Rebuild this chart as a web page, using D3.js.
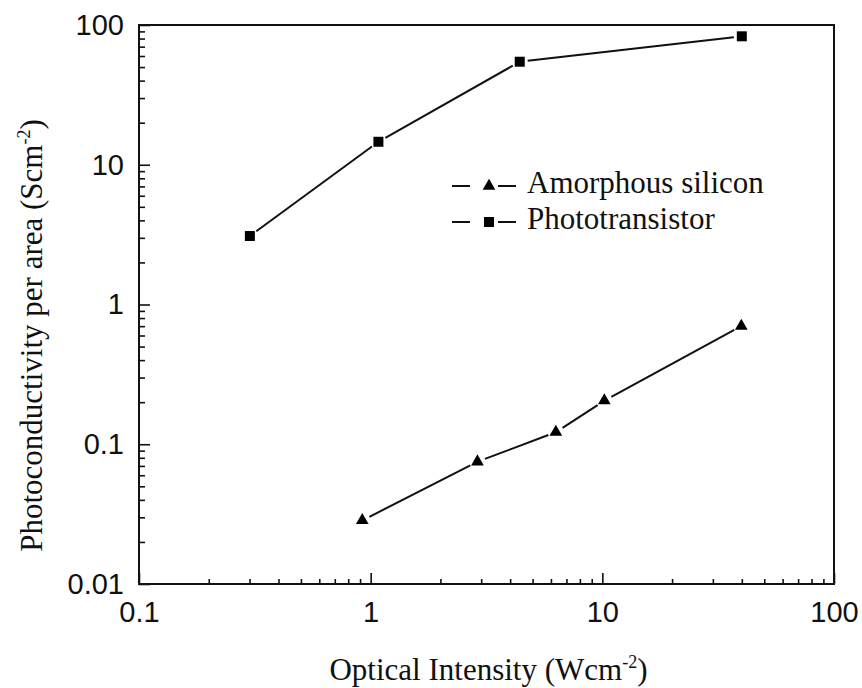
<!DOCTYPE html>
<html lang="en">
  <head>
    <meta charset="UTF-8" />
    <title>Photoconductivity per area vs Optical Intensity</title>
    <style>
      body { margin: 0; background: #fff; }
      .tick text { font-family: "Liberation Sans", Arial, sans-serif; font-size: 29px; fill: #111; }
      .tick line { stroke: #111; stroke-width: 1.6; }
      .title { font-family: "Liberation Serif", "Times New Roman", serif; font-size: 31px; fill: #111; }
    </style>
  </head>
  <body>
    <svg id="svg" width="862" height="688"></svg>
    <script src="https://cdn.jsdelivr.net/npm/d3@7"></script>
    <script>
      // data
      const siliconX = [0.92, 2.89, 6.3, 10.2, 39.8];
      const siliconY = [0.0285, 0.075, 0.122, 0.205, 0.70];
      const photoX = [0.301, 1.08, 4.4, 40];
      const photoY = [3.09, 14.6, 54.6, 83];
      const xTickLabels = [0.1, 1, 10, 100];
      const yTickLabels = [0.01, 0.1, 1, 10, 100];
      const seriesNames = ["Amorphous silicon", "Phototransistor"];

      const margin = { top: 25, right: 28, bottom: 104, left: 139 };
      const width = 862 - margin.left - margin.right;
      const height = 688 - margin.top - margin.bottom;

      const svg = d3.select("#svg")
        .append("g")
        .attr("transform", `translate(${margin.left},${margin.top})`);

      const x = d3.scaleLog().domain([0.1, 100]).range([0, width]);
      const y = d3.scaleLog().domain([0.01, 100]).range([height, 0]);

      // minor ticks 2..9 within each decade
      const minorOf = (dom) => {
        const out = [];
        for (let e = Math.log10(dom[0]); e < Math.log10(dom[1]); e++)
          for (let m = 2; m <= 9; m++) out.push(m * Math.pow(10, e));
        return out;
      };
      const fmt = (d) => String(+d.toPrecision(3));

      // x axis
      svg.append("g").attr("transform", `translate(0,${height})`)
        .call(d3.axisBottom(x).tickValues(minorOf(x.domain())).tickSize(-5).tickFormat(""))
        .call((g) => g.select(".domain").remove());
      svg.append("g").attr("transform", `translate(0,${height})`)
        .call(d3.axisBottom(x).tickValues(xTickLabels).tickSize(-11).tickPadding(17).tickFormat(fmt))
        .call((g) => g.select(".domain").remove());

      // y axis
      svg.append("g")
        .call(d3.axisLeft(y).tickValues(minorOf(y.domain())).tickSize(-6).tickFormat(""))
        .call((g) => g.select(".domain").remove());
      svg.append("g")
        .call(d3.axisLeft(y).tickValues(yTickLabels).tickSize(-11).tickPadding(15).tickFormat(fmt))
        .call((g) => g.select(".domain").remove());

      // frame
      svg.append("rect")
        .attr("width", width).attr("height", height)
        .attr("fill", "none").attr("stroke", "#111").attr("stroke-width", 2);

      // lines drawn as segments with a small gap at each marker
      function drawSeries(xs, ys, shape, gap) {
        const pts = xs.map((v, i) => [x(v), y(ys[i])]);
        for (let i = 0; i < pts.length - 1; i++) {
          const [x0, y0] = pts[i], [x1, y1] = pts[i + 1];
          const L = Math.hypot(x1 - x0, y1 - y0);
          const ux = (x1 - x0) / L, uy = (y1 - y0) / L;
          svg.append("line")
            .attr("x1", x0 + ux * gap).attr("y1", y0 + uy * gap)
            .attr("x2", x1 - ux * gap).attr("y2", y1 - uy * gap)
            .attr("stroke", "#111").attr("stroke-width", 2);
        }
        svg.selectAll(null).data(pts).enter()
          .append("path")
          .attr("d", shape)
          .attr("transform", (d) => `translate(${d[0]},${d[1]})`)
          .attr("fill", "#000");
      }
      const tri = d3.symbol(d3.symbolTriangle, 70)();
      const sq = d3.symbol(d3.symbolSquare, 100)();

      drawSeries(siliconX, siliconY, tri, 8);
      drawSeries(photoX, photoY, sq, 8);

      // legend
      const legend = svg.append("g").attr("transform", "translate(313,161)");
      [tri, sq].forEach((shape, i) => {
        const row = legend.append("g").attr("transform", `translate(0,${i * 36})`);
        row.append("line").attr("x1", 0).attr("x2", 18).attr("stroke", "#111").attr("stroke-width", 2);
        row.append("line").attr("x1", 46).attr("x2", 64).attr("stroke", "#111").attr("stroke-width", 2);
        row.append("path").attr("d", shape).attr("transform", "translate(37,0)");
        row.append("text").attr("class", "title").attr("x", 75).attr("y", 7).text(seriesNames[i]);
      });

      // axis titles
      const xt = svg.append("text").attr("class", "title")
        .attr("x", width / 2 + 2).attr("y", height + 96)
        .attr("text-anchor", "middle");
      xt.append("tspan").text("Optical Intensity (Wcm");
      xt.append("tspan").attr("dy", -12).attr("font-size", 18).text("-2");
      xt.append("tspan").attr("dy", 12).text(")");

      const yt = svg.append("text").attr("class", "title")
        .attr("transform", `translate(${42 - margin.left},${height / 2 + 31}) rotate(-90)`)
        .attr("text-anchor", "middle");
      yt.append("tspan").text("Photoconductivity per area (Scm");
      yt.append("tspan").attr("dy", -12).attr("font-size", 18).text("-2");
      yt.append("tspan").attr("dy", 12).text(")");
    </script>
  </body>
</html>
